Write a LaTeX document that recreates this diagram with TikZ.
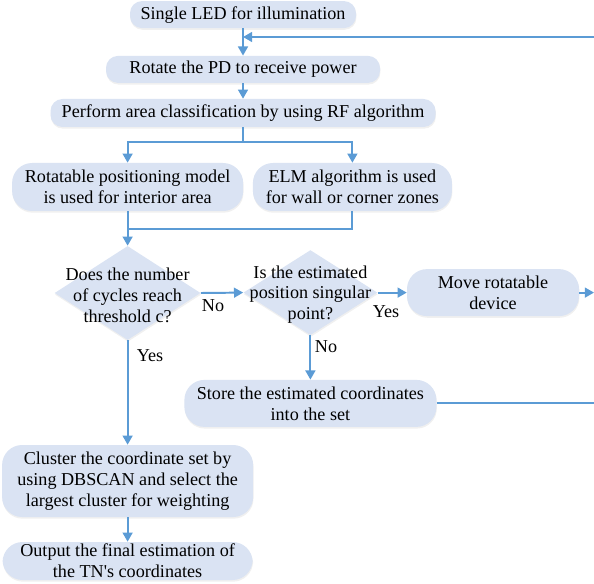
\documentclass[tikz,border=0pt]{standalone}
\usepackage{fontspec}
\setmainfont{Liberation Serif}
\usepackage{tikz}
\usepackage{xcolor}
\usetikzlibrary{positioning, arrows.meta, shapes.geometric, shadows, calc}
\definecolor{fBlue}{HTML}{DAE3F3}
\definecolor{lBlue}{HTML}{5B9BD5}

\begin{document}
\begin{tikzpicture}[
  stepbox/.style={draw=none, fill=fBlue, align=center, inner sep=1pt,
                  font=\fontsize{12.9}{14.9}\selectfont, rounded corners=0.3cm,
                  drop shadow={shadow xshift=0.3pt, shadow yshift=-1.2pt, opacity=0.12}},
  bigbox/.style={stepbox, rounded corners=0.5cm},
  decision/.style={diamond, draw=none, fill=fBlue, inner sep=0pt,
                   drop shadow={shadow xshift=0.3pt, shadow yshift=-1.2pt, opacity=0.12}},
  dtext/.style={align=center, font=\fontsize{12.9}{14.9}\selectfont, inner sep=0pt},
  branch/.style={font=\fontsize{12.9}{14.9}\selectfont, inner sep=0pt},
  flow/.style={draw=lBlue, line width=1.4pt, -{Triangle[length=6.5pt, width=7pt]}},
  link/.style={draw=lBlue, line width=1.4pt},
]
  \useasboundingbox (0,0) rectangle (14.85,14.575);

  % top chain
  \node[stepbox, minimum width=5.65cm, minimum height=0.675cm] (led) at (6.075, 14.21) {Single LED for illumination};
  \node[stepbox, minimum width=6.85cm, minimum height=0.675cm] (rot) at (6.075, 12.84) {Rotate the PD to receive power};
  \node[stepbox, minimum width=9.625cm, minimum height=0.7cm] (cls) at (6.075, 11.75) {Perform area classification by using RF algorithm};
  \node[bigbox, minimum width=5.775cm, minimum height=1.2cm] (interior) at (3.19, 9.9) {Rotatable positioning model\\is used for interior area};
  \node[bigbox, minimum width=4.975cm, minimum height=1.2cm] (wall) at (8.81, 9.9) {ELM algorithm is used\\for wall or corner zones};

  % decisions
  \node[decision, minimum width=3.65cm, minimum height=2.35cm] (cyc) at (3.19, 7.25) {};
  \node[dtext] at ($(cyc)+(0,-0.05)$) {Does the number\\of cycles reach\\threshold c?};
  \node[decision, minimum width=3.35cm, minimum height=2.125cm] (sing) at (7.76, 7.26) {};
  \node[dtext] at ($(sing)+(0,-0.05)$) {Is the estimated\\position singular\\point?};
  \node[bigbox, minimum width=4.3cm, minimum height=1.175cm] (move) at (12.325, 7.26) {Move rotatable\\device};
  \node[bigbox, minimum width=6.3cm, minimum height=1.175cm] (store) at (7.76, 4.49) {Store the estimated coordinates\\into the set};

  % bottom chain
  \node[bigbox, minimum width=6.275cm, minimum height=1.8cm] (cluster) at (3.19, 2.55) {Cluster the coordinate set by\\using DBSCAN and select the\\largest cluster for weighting};
  \node[bigbox, minimum width=6.25cm, minimum height=0.95cm, inner ysep=0pt] (out) at (3.19, 0.55) {Output the final estimation of\\the TN\textquotesingle s coordinates};

  % branch labels
  \node[branch] (no1) at (5.325, 6.93) {No};
  \node[branch] (yes2) at (9.65, 6.78) {Yes};
  \node[branch] (no2) at (8.15, 5.9) {No};
  \node[branch] (yes1) at (3.75, 5.68) {Yes};

  % connectors
  \coordinate (fb) at (14.85, 13.65);
  \coordinate (split) at (6.075, 11.03);
  \coordinate (merge) at (3.19, 8.85);
  \coordinate (moveR) at (14.85, 7.26);
  \coordinate (storeR) at (14.85, 4.49);

  \draw[flow] (led) -- (rot);
  \draw[flow] (fb) -- (fb -| led.south);
  \draw[flow] (rot) -- (cls);
  \draw[link] (cls.south) -- (split);
  \draw[flow] (split) -| (interior.north);
  \draw[flow] (split) -| (wall.north);
  \draw[link] (interior.south) -- (merge);
  \draw[link] (wall.south) |- (merge);
  \draw[flow] (merge) -- (cyc.north);
  \draw[flow] (cyc.east) -- (sing.west);
  \draw[flow] (sing.east) -- (move.west);
  \draw[flow] (sing.south) -- (store.north);
  \draw[flow] (move.east) -- (moveR);
  \draw[link] (store.east) -- (storeR);
  \draw[flow] (cyc.south) -- (cluster.north);
  \draw[flow] (cluster.south) -- (out.north);
\end{tikzpicture}
\end{document}
